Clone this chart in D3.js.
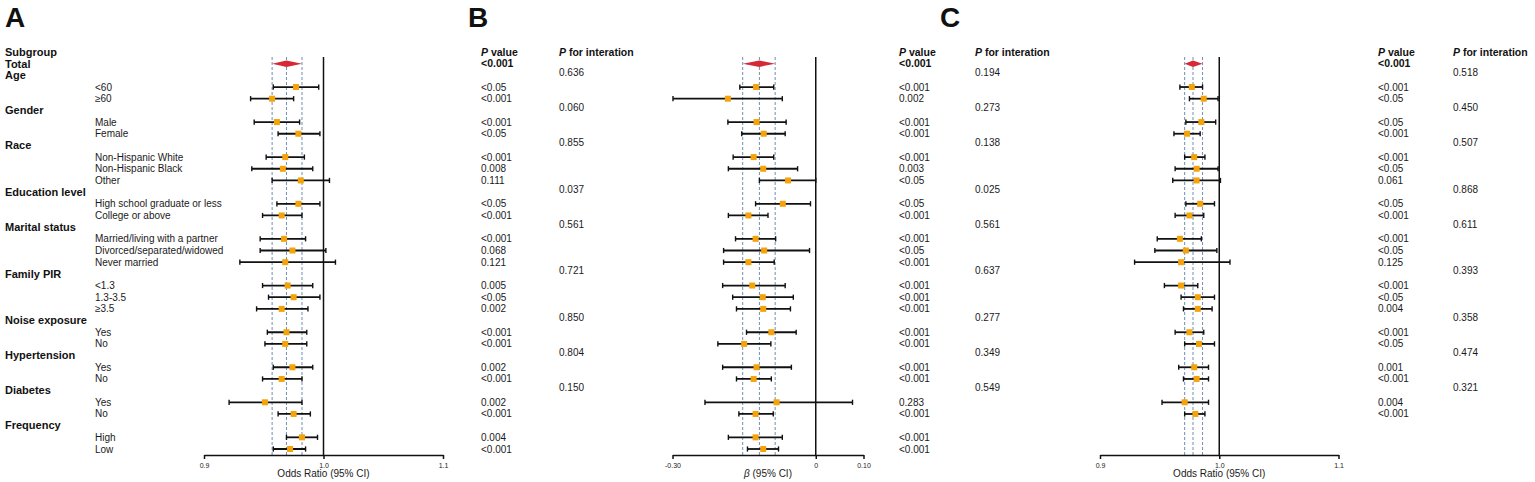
<!DOCTYPE html>
<html>
<head>
<meta charset="utf-8">
<script src="https://cdn.jsdelivr.net/npm/d3@7"></script>
<style>
	body { margin: 0; background: #fff; }
	svg { font-family: Arial, "Liberation Sans", sans-serif; }
	.cat { font-size: 11px; font-weight: bold; fill: #111; }
	.sub { font-size: 10px; fill: #1a1a1a; }
	.pv { font-size: 10px; fill: #1a1a1a; }
	.hdr { font-size: 10.5px; font-weight: bold; fill: #111; }
	.letter { font-size: 28px; font-weight: bold; fill: #111; }
	.axis text { font-size: 7px; fill: #222; }
	.axis path, .axis line { stroke: #111; stroke-width: 1.5; }
	.xlab { font-size: 10px; fill: #1a1a1a; }
</style>
</head>
<body>
<div id="chart"></div>
<script>

var categories = ['Age', 'Gender', 'Race', 'Education level', 'Marital status', 'Family PIR',
	'Noise exposure', 'Hypertension', 'Diabetes', 'Frequency'];

var levels = [
	['<60', '≥60'],
	['Male', 'Female'],
	['Non-Hispanic White', 'Non-Hispanic Black', 'Other'],
	['High school graduate or less', 'College or above'],
	['Married/living with a partner', 'Divorced/separated/widowed', 'Never married'],
	['<1.3', '1.3-3.5', '≥3.5'],
	['Yes', 'No'],
	['Yes', 'No'],
	['Yes', 'No'],
	['High', 'Low']
];

// panel A: odds ratio
var totalA = [0.969, 0.957, 0.982];
var estA = [0.977, 0.957, 0.961, 0.979, 0.968, 0.966, 0.981, 0.979, 0.965, 0.967, 0.974, 0.968,
	0.970, 0.975, 0.965, 0.969, 0.968, 0.974, 0.965, 0.951, 0.975, 0.982, 0.972];
var lowA = [0.958, 0.939, 0.942, 0.962, 0.952, 0.940, 0.957, 0.961, 0.949, 0.947, 0.947, 0.930,
	0.949, 0.954, 0.944, 0.953, 0.951, 0.958, 0.949, 0.921, 0.962, 0.969, 0.958];
var highA = [0.996, 0.975, 0.980, 0.997, 0.984, 0.991, 1.005, 0.997, 0.982, 0.985, 1.002, 1.010,
	0.991, 0.997, 0.987, 0.986, 0.986, 0.991, 0.982, 0.982, 0.989, 0.995, 0.985];
var pA = ['<0.05', '<0.001', '<0.001', '<0.05', '<0.001', '0.008', '0.111', '<0.05', '<0.001',
	'<0.001', '0.068', '0.121', '0.005', '<0.05', '0.002', '<0.001', '<0.001', '0.002', '<0.001',
	'0.002', '<0.001', '0.004', '<0.001'];
var pIntA = ['0.636', '0.060', '0.855', '0.037', '0.561', '0.721', '0.850', '0.804', '0.150', ''];

// panel B: beta
var totalB = [-0.118, -0.153, -0.085];
var estB = [-0.125, -0.184, -0.124, -0.109, -0.130, -0.110, -0.058, -0.069, -0.141, -0.126, -0.108,
	-0.141, -0.133, -0.111, -0.110, -0.093, -0.150, -0.124, -0.130, -0.082, -0.126, -0.126, -0.110];
var lowB = [-0.159, -0.299, -0.184, -0.155, -0.173, -0.183, -0.118, -0.126, -0.183, -0.168, -0.193,
	-0.193, -0.195, -0.174, -0.166, -0.145, -0.205, -0.195, -0.166, -0.232, -0.161, -0.183, -0.143];
var highB = [-0.088, -0.070, -0.062, -0.064, -0.088, -0.038, 0.000, -0.011, -0.100, -0.084, -0.013,
	-0.087, -0.064, -0.047, -0.053, -0.041, -0.094, -0.051, -0.093, 0.077, -0.089, -0.070, -0.078];
var pB = ['<0.001', '0.002', '<0.001', '<0.001', '<0.001', '0.003', '<0.05', '<0.05', '<0.001',
	'<0.001', '<0.05', '<0.001', '<0.001', '<0.001', '<0.001', '<0.001', '<0.001', '<0.001', '<0.001',
	'0.283', '<0.001', '<0.001', '<0.001'];
var pIntB = ['0.194', '0.273', '0.138', '0.025', '0.561', '0.637', '0.277', '0.349', '0.549', ''];

// panel C: odds ratio (no frequency rows)
var totalC = [0.978, 0.971, 0.986];
var estC = [0.977, 0.987, 0.985, 0.973, 0.979, 0.981, 0.981, 0.984, 0.975, 0.967, 0.972, 0.968,
	0.968, 0.982, 0.982, 0.975, 0.983, 0.979, 0.981, 0.971, 0.980, null, null];
var lowC = [0.967, 0.975, 0.972, 0.962, 0.971, 0.963, 0.961, 0.972, 0.963, 0.948, 0.946, 0.929,
	0.954, 0.968, 0.970, 0.963, 0.971, 0.966, 0.970, 0.952, 0.971, null, null];
var highC = [0.986, 0.999, 0.997, 0.984, 0.988, 0.999, 1.001, 0.996, 0.987, 0.985, 0.998, 1.009,
	0.982, 0.996, 0.994, 0.987, 0.996, 0.991, 0.991, 0.991, 0.988, null, null];
var pC = ['<0.001', '<0.05', '<0.05', '<0.001', '<0.001', '<0.05', '0.061', '<0.05', '<0.001',
	'<0.001', '<0.05', '0.125', '<0.001', '<0.05', '0.004', '<0.001', '<0.05', '0.001', '<0.001',
	'0.004', '<0.001', '', ''];
var pIntC = ['0.518', '0.450', '0.507', '0.868', '0.611', '0.393', '0.358', '0.474', '0.321', ''];

var ticksOR = [0.9, 1.0, 1.1];
var tickLabelsOR = ['0.9', '1.0', '1.1'];
var ticksBeta = [-0.30, 0, 0.10];
var tickLabelsBeta = ['-0.30', '0', '0.10'];

var W = 1535, H = 482;
var svg = d3.select('#chart').append('svg')
	.attr('width', W)
	.attr('height', H);

// build the row list: header, total, then categories and their levels
var rows = [{ type: 'head' }, { type: 'total' }];
var subIndex = 0;
categories.forEach(function (c, ci) {
	rows.push({ type: 'cat', label: c, ci: ci });
	levels[ci].forEach(function (l) {
		rows.push({ type: 'sub', label: l, si: subIndex++ });
	});
});

var y = d3.scaleLinear().domain([0, rows.length - 1]).range([52, 449]);
var axisY = 455, lineTop = 57;

// left labels
rows.forEach(function (r, i) {
	if (r.type === 'head' || r.type === 'total' || r.type === 'cat') {
		svg.append('text').attr('class', 'cat')
			.attr('x', 5).attr('y', y(i)).attr('dy', '0.35em')
			.text(r.type === 'head' ? 'Subgroup' : r.type === 'total' ? 'Total' : r.label);
	} else {
		svg.append('text').attr('class', 'sub')
			.attr('x', 95).attr('y', y(i)).attr('dy', '0.35em')
			.text(r.label);
	}
});

var panels = [
	{ letter: 'A', lx: 5, range: [204, 443], domain: [0.9, 1.1], ref: 1, ticks: ticksOR, tickLabels: tickLabelsOR,
		total: totalA, est: estA, low: lowA, high: highA, p: pA, pInt: pIntA, px: 481, pix: 559, beta: false },
	{ letter: 'B', lx: 468, range: [672.5, 863.5], domain: [-0.30, 0.10], ref: 0, ticks: ticksBeta, tickLabels: tickLabelsBeta,
		total: totalB, est: estB, low: lowB, high: highB, p: pB, pInt: pIntB, px: 899, pix: 975, beta: true },
	{ letter: 'C', lx: 940, range: [1100, 1338.5], domain: [0.9, 1.1], ref: 1, ticks: ticksOR, tickLabels: tickLabelsOR,
		total: totalC, est: estC, low: lowC, high: highC, p: pC, pInt: pIntC, px: 1378, pix: 1453, beta: false }
];

panels.forEach(function (pn) {

	var x = d3.scaleLinear().domain(pn.domain).range(pn.range);
	var g = svg.append('g');

	g.append('text').attr('class', 'letter')
		.attr('x', pn.lx).attr('y', 27)
		.text(pn.letter);

	// dashed guide lines at the overall estimate and its CI
	g.selectAll('.guide')
		.data(pn.total)
		.enter().append('line')
		.attr('x1', function (d) { return x(d); })
		.attr('x2', function (d) { return x(d); })
		.attr('y1', lineTop).attr('y2', axisY)
		.attr('stroke', '#6f8fb3')
		.attr('stroke-width', 1)
		.attr('stroke-dasharray', '3,2');

	// reference line
	g.append('line')
		.attr('x1', x(pn.ref)).attr('x2', x(pn.ref))
		.attr('y1', lineTop).attr('y2', axisY)
		.attr('stroke', '#111').attr('stroke-width', 1.5);

	// overall diamond
	var ty = y(1);
	g.append('path')
		.attr('d', 'M' + x(pn.total[1]) + ',' + ty + 'L' + x(pn.total[0]) + ',' + (ty - 3.2) +
			'L' + x(pn.total[2]) + ',' + ty + 'L' + x(pn.total[0]) + ',' + (ty + 3.2) + 'Z')
		.attr('fill', '#d42a35');

	var subRows = rows.map(function (r, i) { return { r: r, i: i }; })
		.filter(function (d) { return d.r.type === 'sub' && pn.est[d.r.si] !== null; });

	var bars = g.selectAll('.ci')
		.data(subRows)
		.enter().append('g');

	bars.append('line')
		.attr('x1', function (d) { return x(pn.low[d.r.si]); })
		.attr('x2', function (d) { return x(pn.high[d.r.si]); })
		.attr('y1', function (d) { return y(d.i); })
		.attr('y2', function (d) { return y(d.i); })
		.attr('stroke', '#111').attr('stroke-width', 1.8);

	['low', 'high'].forEach(function (k) {
		bars.append('line')
			.attr('x1', function (d) { return x(pn[k][d.r.si]); })
			.attr('x2', function (d) { return x(pn[k][d.r.si]); })
			.attr('y1', function (d) { return y(d.i) - 2.6; })
			.attr('y2', function (d) { return y(d.i) + 2.6; })
			.attr('stroke', '#111').attr('stroke-width', 1.4);
	});

	bars.append('rect')
		.attr('x', function (d) { return x(pn.est[d.r.si]) - 3; })
		.attr('y', function (d) { return y(d.i) - 3; })
		.attr('width', 6).attr('height', 6)
		.attr('fill', '#f5a30a');

	// axis
	var axis = g.append('g').attr('class', 'axis')
		.attr('transform', 'translate(0,' + axisY + ')')
		.call(d3.axisBottom(x)
			.tickValues(pn.ticks)
			.tickFormat(function (d, i) { return pn.tickLabels[i]; })
			.tickSize(4)
			.tickSizeOuter(0));
	axis.selectAll('text').attr('font-family', null).attr('dy', '0.9em');

	var xl = g.append('text').attr('class', 'xlab')
		.attr('x', (pn.range[0] + pn.range[1]) / 2).attr('y', 477)
		.attr('text-anchor', 'middle');
	if (pn.beta) {
		xl.append('tspan').attr('font-style', 'italic').text('β');
		xl.append('tspan').text(' (95% CI)');
	} else {
		xl.text('Odds Ratio (95% CI)');
	}

	// P value columns
	var h1 = g.append('text').attr('class', 'hdr').attr('x', pn.px).attr('y', y(0)).attr('dy', '0.35em');
	h1.append('tspan').attr('font-style', 'italic').text('P');
	h1.append('tspan').text(' value');
	var h2 = g.append('text').attr('class', 'hdr').attr('x', pn.pix).attr('y', y(0)).attr('dy', '0.35em');
	h2.append('tspan').attr('font-style', 'italic').text('P');
	h2.append('tspan').text(' for interation');

	g.append('text').attr('class', 'hdr')
		.attr('x', pn.px).attr('y', y(1)).attr('dy', '0.35em')
		.text('<0.001');

	rows.forEach(function (r, i) {
		if (r.type === 'sub' && pn.p[r.si]) {
			g.append('text').attr('class', 'pv')
				.attr('x', pn.px).attr('y', y(i)).attr('dy', '0.35em')
				.text(pn.p[r.si]);
		}
		if (r.type === 'cat' && pn.pInt[r.ci]) {
			g.append('text').attr('class', 'pv')
				.attr('x', pn.pix).attr('y', y(i) - 3).attr('dy', '0.35em')
				.text(pn.pInt[r.ci]);
		}
	});
});

</script>
</body>
</html>
